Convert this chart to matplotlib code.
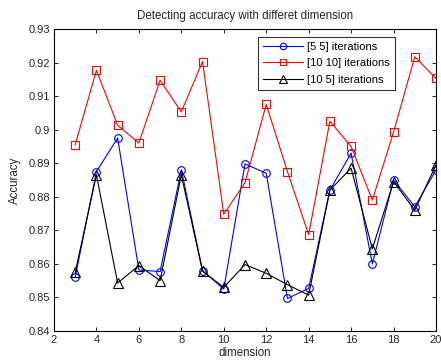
import matplotlib
matplotlib.use("Agg")
import matplotlib.pyplot as plt

plt.rcParams["font.family"] = ["Liberation Sans", "DejaVu Sans"]

# ── Data ──────────────────────────────────────────────────────────────────────
dims = [3, 4, 5, 6, 7, 8, 9, 10, 11, 12, 13, 14, 15, 16, 17, 18, 19, 20]
acc_5_5 = [0.856, 0.8875, 0.8975, 0.8582, 0.8577, 0.888, 0.858, 0.8525, 0.8898,
           0.887, 0.8497, 0.8527, 0.882, 0.893, 0.860, 0.885, 0.877, 0.888]
acc_10_10 = [0.8955, 0.9177, 0.9013, 0.896, 0.9147, 0.9053, 0.9203, 0.8748, 0.8842,
             0.9075, 0.8875, 0.8687, 0.9025, 0.895, 0.879, 0.8993, 0.9217, 0.9153]
acc_10_5 = [0.8575, 0.8865, 0.8543, 0.8595, 0.855, 0.8865, 0.8578, 0.853, 0.8598,
            0.8572, 0.8538, 0.8507, 0.882, 0.8885, 0.8645, 0.8845, 0.876, 0.8895]
xticks = [2, 4, 6, 8, 10, 12, 14, 16, 18, 20]
yticks = [0.84, 0.85, 0.86, 0.87, 0.88, 0.89, 0.9, 0.91, 0.92, 0.93]
ytick_labels = ["0.84", "0.85", "0.86", "0.87", "0.88", "0.89", "0.9", "0.91", "0.92", "0.93"]

# ── Plot ──────────────────────────────────────────────────────────────────────
fig = plt.figure(figsize=(4.41, 3.62), dpi=100)
ax = fig.add_axes([0.1224, 0.0856, 0.8663, 0.8344])

ax.plot(dims, acc_5_5, color="blue", linewidth=0.8, marker="o", markersize=5.5,
        markerfacecolor="none", markeredgecolor="blue", markeredgewidth=0.8,
        label="[5 5] iterations")
ax.plot(dims, acc_10_10, color="red", linewidth=0.8, marker="s", markersize=5.5,
        markerfacecolor="none", markeredgecolor="red", markeredgewidth=0.8,
        label="[10 10] iterations")
ax.plot(dims, acc_10_5, color="black", linewidth=0.8, marker="^", markersize=6.5,
        markerfacecolor="none", markeredgecolor="black", markeredgewidth=0.8,
        label="[10 5] iterations")

ax.set_xlim(2, 20)
ax.set_ylim(0.84, 0.93)
ax.set_xticks(xticks)
ax.set_yticks(yticks)
ax.set_yticklabels(ytick_labels)
ax.tick_params(direction="in", top=True, right=True, labelsize=8,
               length=3, width=0.6, colors="black", labelcolor="#262626", pad=3)
for spine in ax.spines.values():
    spine.set_linewidth(0.8)

ax.set_title("Detecting accuracy with differet dimension", fontsize=8.3,
             color="#262626", pad=7)
ax.set_xlabel("dimension", fontsize=8.3, color="#262626", labelpad=1)
ax.set_ylabel("Accuracy", fontsize=8.3, color="#262626", labelpad=5)

leg = ax.legend(loc="upper right", bbox_to_anchor=(0.893, 0.975), fontsize=8,
                frameon=True, fancybox=False, edgecolor="black",
                handlelength=3.6, borderpad=0.45, labelspacing=0.6,
                handletextpad=0.35, borderaxespad=0, markerscale=0.85)
leg.get_frame().set_linewidth(0.8)

fig.savefig("out.png", dpi=100, facecolor="white")
